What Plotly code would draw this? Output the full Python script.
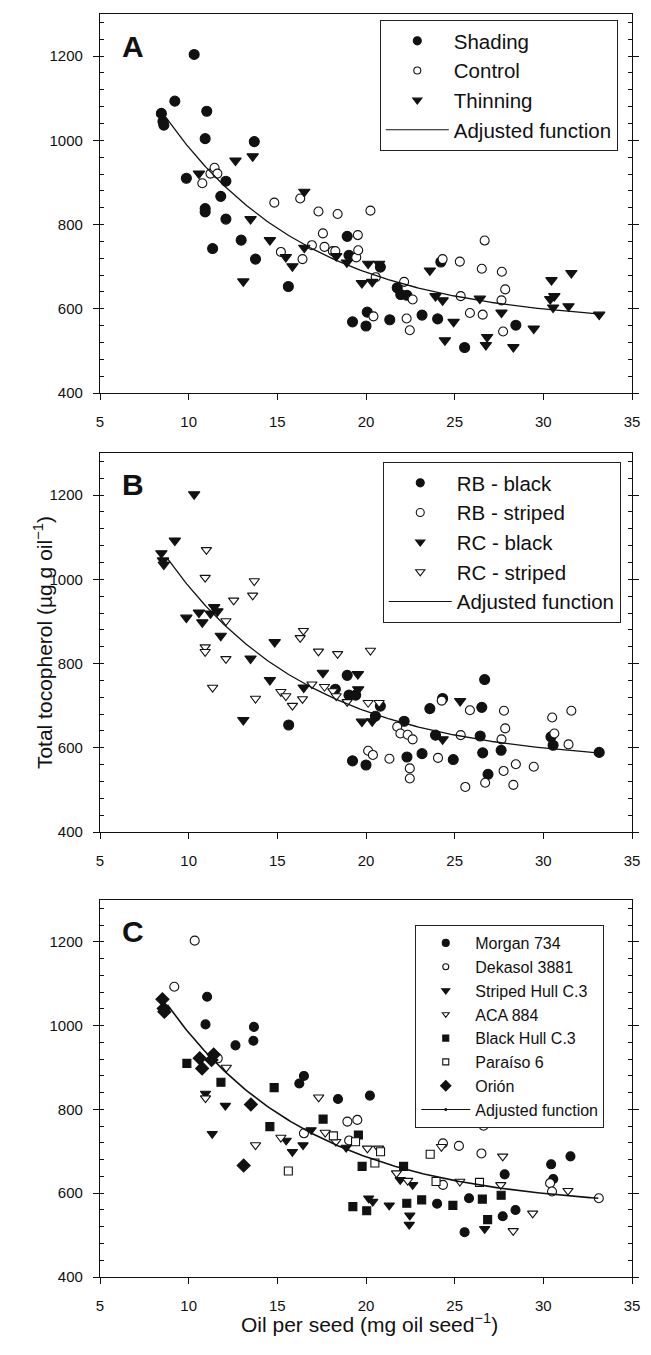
import numpy as np
import plotly.graph_objects as go

# ---------------- Panel A: source treatments ----------------
shading_x = [8.46, 8.55, 8.6, 9.22, 10.31, 11.02, 10.93, 9.87, 10.93, 10.93, 11.35, 12.1, 11.81, 12.1,
             12.96, 13.7, 13.77, 15.62, 18.94, 19.04, 20.81, 19.24, 20.07, 20.0, 21.34, 21.76, 21.96,
             22.31, 23.16, 24.04, 24.22, 25.56, 28.45]
shading_y = [1064, 1045, 1036, 1093, 1204, 1069, 1004, 910, 838, 830, 743, 903, 867, 813,
             763, 997, 718, 653, 772, 727, 699, 569, 592, 559, 574, 650, 634,
             632, 585, 576, 711, 508, 561]

control_x = [10.77, 11.23, 11.46, 11.62, 14.83, 16.29, 16.42, 15.2, 16.95, 17.32, 17.57, 17.66, 18.13,
             18.27, 18.4, 19.45, 19.54, 19.56, 20.25, 20.42, 20.55, 22.15, 22.29, 22.47, 22.63, 24.32,
             25.29, 25.34, 25.86, 26.53, 26.58, 26.69, 27.66, 27.64, 27.73, 27.85]
control_y = [898, 921, 935, 921, 852, 862, 718, 735, 751, 831, 779, 747, 737,
             737, 825, 722, 775, 739, 833, 582, 675, 664, 577, 549, 622, 718,
             712, 630, 590, 695, 586, 762, 688, 620, 546, 646]

thinning_x = [10.58, 12.64, 13.61, 13.49, 13.08, 14.58, 15.48, 15.85, 16.52, 16.52, 18.32, 18.92, 20.12,
              19.77, 20.35, 20.74, 23.6, 23.92, 24.32, 24.45, 24.94, 26.42, 26.83, 26.76, 27.64, 28.31,
              29.46, 30.46, 30.39, 30.62, 30.55, 31.42, 31.58, 33.15]
thinning_y = [921, 952, 962, 813, 665, 763, 723, 701, 878, 745, 725, 710, 707,
              661, 664, 707, 691, 630, 620, 525, 569, 624, 533, 514, 591, 509,
              553, 668, 623, 630, 603, 606, 685, 586]

# ---------------- Panel B: location x hull colour ----------------
rb_black_x = [15.64, 18.94, 18.27, 19.04, 19.42, 20.81, 20.53, 19.24, 20.0, 22.15, 22.31, 23.16, 23.6,
              23.92, 24.32, 24.92, 26.44, 26.53, 26.69, 26.58, 26.88, 27.62, 30.43, 30.55, 33.15]
rb_black_y = [654, 772, 739, 725, 725, 699, 675, 569, 559, 663, 578, 586, 693,
              630, 717, 572, 628, 696, 762, 588, 537, 594, 626, 606, 589]

rb_striped_x = [20.12, 20.39, 21.32, 21.76, 21.94, 22.35, 22.63, 22.47, 22.47, 24.06, 24.27, 25.34,
                25.6, 25.86, 26.72, 27.64, 27.78, 27.85, 27.76, 28.45, 28.31, 29.46, 30.5, 30.62,
                31.42, 31.58]
rb_striped_y = [593, 583, 574, 650, 634, 631, 620, 551, 527, 576, 712, 630,
                507, 689, 517, 620, 688, 646, 545, 561, 512, 555, 672, 634,
                608, 688]

rc_black_x = [8.46, 8.55, 8.6, 9.22, 10.31, 9.87, 10.58, 10.77, 11.44, 11.23, 11.62, 11.81, 13.49,
              13.08, 14.58, 14.85, 16.49, 17.57, 19.54, 19.56, 19.77, 20.35, 24.32, 25.31]
rc_black_y = [1062, 1045, 1035, 1092, 1202, 909, 921, 898, 934, 919, 924, 866, 812,
              666, 761, 851, 743, 778, 775, 739, 662, 663, 620, 711]

rc_striped_x = [11.0, 10.93, 10.93, 10.93, 11.35, 12.1, 12.1, 12.54, 13.7, 13.61, 13.77, 15.2, 15.48,
                15.85, 16.29, 16.47, 16.42, 16.95, 17.32, 17.66, 18.13, 18.32, 18.4, 18.94, 20.12,
                20.25, 20.74]
rc_striped_y = [1070, 1004, 839, 828, 743, 901, 811, 950, 996, 962, 717, 733, 723,
                700, 861, 878, 716, 751, 829, 745, 735, 723, 823, 709, 707,
                831, 707]

# ---------------- Panel C: hybrids ----------------
morgan_x = [11.04, 10.95, 12.64, 13.65, 13.68, 16.24, 16.5, 18.42, 20.22, 24.01, 25.56, 25.81, 27.82,
            27.71, 28.43, 30.44, 30.56, 31.53]
morgan_y = [1069, 1003, 953, 964, 997, 862, 880, 825, 833, 575, 507, 588, 645,
            545, 560, 669, 634, 688]

dekasol_x = [9.19, 10.34, 11.64, 16.5, 18.95, 19.51, 19.05, 24.34, 25.24, 26.51, 26.63, 24.34, 30.38,
             30.49, 33.13]
dekasol_y = [1093, 1203, 922, 743, 771, 775, 726, 719, 713, 695, 761, 620, 624,
             604, 588]

striped_c3_x = [10.95, 12.07, 11.33, 15.5, 15.85, 16.45, 16.91, 18.88, 20.15, 20.38, 21.31, 21.93,
                22.63, 22.47, 22.44, 26.69]
striped_c3_y = [838, 809, 742, 726, 699, 715, 751, 709, 588, 580, 571, 632,
                620, 547, 525, 515]

aca884_x = [10.95, 12.12, 13.77, 15.2, 17.33, 17.7, 18.3, 20.08, 20.71, 21.72, 22.35, 24.25, 25.29,
            27.71, 27.6, 28.3, 29.4, 31.39]
aca884_y = [827, 900, 715, 733, 829, 745, 723, 707, 707, 648, 630, 711, 628,
            688, 620, 510, 552, 606]

black_c3_x = [9.9, 11.82, 14.82, 14.58, 17.58, 19.57, 19.78, 22.12, 19.26, 20.04, 22.3, 23.14, 24.9,
              26.56, 26.86, 27.62]
black_c3_y = [910, 865, 852, 759, 777, 739, 664, 664, 568, 558, 576, 584, 571,
              586, 537, 595]

paraiso_x = [15.62, 18.16, 19.41, 20.5, 20.82, 23.62, 23.95, 26.4]
paraiso_y = [653, 737, 723, 672, 699, 693, 628, 626]

orion_x = [8.52, 8.59, 8.63, 10.62, 10.76, 11.41, 11.29, 13.51, 13.1]
orion_y = [1063, 1041, 1033, 922, 898, 931, 918, 812, 666]

# Adjusted function: y = a + b * exp(-c * x)
fit_a, fit_b, fit_c = 563.0, 1427.0, 0.1222
fit_xmin, fit_xmax = 8.8, 33.1

FONT = "Liberation Sans, Arial, Helvetica, sans-serif"
INK = "#111111"

fig = go.Figure()

curve_x = np.linspace(fit_xmin, fit_xmax, 200)
curve_y = fit_a + fit_b * np.exp(-fit_c * curve_x)


def add_group(x, y, symbol, filled, size, axis, legend, name, leg_size):
    xa = "x" if axis == 1 else f"x{axis}"
    ya = "y" if axis == 1 else f"y{axis}"
    marker = dict(symbol=symbol, size=size,
                  color=INK if filled else "white",
                  line=dict(color=INK, width=1.1))
    fig.add_trace(go.Scatter(x=x, y=y, mode="markers", marker=marker,
                             xaxis=xa, yaxis=ya, showlegend=False, hoverinfo="x+y"))
    leg_marker = dict(marker)
    leg_marker["size"] = leg_size
    fig.add_trace(go.Scatter(x=[None], y=[None], mode="markers", marker=leg_marker,
                             name=name, legend=legend, xaxis=xa, yaxis=ya))


def add_curve(axis, legend, width, with_dot=False):
    xa = "x" if axis == 1 else f"x{axis}"
    ya = "y" if axis == 1 else f"y{axis}"
    fig.add_trace(go.Scatter(x=curve_x, y=curve_y, mode="lines",
                             line=dict(color=INK, width=width),
                             xaxis=xa, yaxis=ya, showlegend=False, hoverinfo="skip"))
    fig.add_trace(go.Scatter(x=[None], y=[None],
                             mode="lines+markers" if with_dot else "lines",
                             line=dict(color=INK, width=1.1),
                             marker=dict(size=3, color=INK),
                             name="Adjusted function", legend=legend, xaxis=xa, yaxis=ya))


# Panel A
add_group(shading_x, shading_y, "circle", True, 10, 1, "legend", "Shading", 8)
add_group(control_x, control_y, "circle", False, 9, 1, "legend", "Control", 7)
add_group(thinning_x, thinning_y, "triangle-down", True, 10, 1, "legend", "Thinning", 8)
add_curve(1, "legend", 1.3)

# Panel B
add_group(rb_black_x, rb_black_y, "circle", True, 10, 2, "legend2", "RB - black", 8)
add_group(rb_striped_x, rb_striped_y, "circle", False, 9, 2, "legend2", "RB - striped", 8)
add_group(rc_black_x, rc_black_y, "triangle-down", True, 10, 2, "legend2", "RC - black", 8)
add_group(rc_striped_x, rc_striped_y, "triangle-down", False, 9, 2, "legend2", "RC - striped", 8)
add_curve(2, "legend2", 1.3)

# Panel C
add_group(morgan_x, morgan_y, "circle", True, 9, 3, "legend3", "Morgan 734", 7)
add_group(dekasol_x, dekasol_y, "circle", False, 9, 3, "legend3", "Dekasol 3881", 6)
add_group(striped_c3_x, striped_c3_y, "triangle-down", True, 9, 3, "legend3", "Striped Hull C.3", 7)
add_group(aca884_x, aca884_y, "triangle-down", False, 9, 3, "legend3", "ACA 884", 6)
add_group(black_c3_x, black_c3_y, "square", True, 8, 3, "legend3", "Black Hull C.3", 6)
add_group(paraiso_x, paraiso_y, "square", False, 8, 3, "legend3", "Paraíso 6", 6)
add_group(orion_x, orion_y, "diamond", True, 10, 3, "legend3", "Orión", 8)
add_curve(3, "legend3", 1.6, with_dot=True)

W, H = 651, 1355
M_L, M_R, M_T, M_B = 100, 11, 14, 78
plot_h = H - M_T - M_B


def frac(py):
    return (H - M_B - py) / plot_h


domains = [(frac(393), frac(14)), (frac(832), frac(453)), (frac(1277), frac(900))]

axis_common = dict(showline=True, linecolor=INK, linewidth=1.2, mirror=True,
                   showgrid=False, zeroline=False, ticks="outside", tickcolor=INK,
                   ticklen=6, tickwidth=1, tickfont=dict(family=FONT, size=15, color=INK))

layout = dict(width=W, height=H, margin=dict(l=M_L, r=M_R, t=M_T, b=M_B),
              paper_bgcolor="white", plot_bgcolor="white",
              font=dict(family=FONT, color=INK))

for i, dom in enumerate(domains, start=1):
    xk = "xaxis" if i == 1 else f"xaxis{i}"
    yk = "yaxis" if i == 1 else f"yaxis{i}"
    ya = "y" if i == 1 else f"y{i}"
    xa = "x" if i == 1 else f"x{i}"
    layout[xk] = dict(axis_common, range=[5, 35], tick0=5, dtick=5, anchor=ya, domain=[0, 1],
                      ticklabelstandoff=9)
    layout[yk] = dict(axis_common, range=[400, 1300], tick0=400, dtick=200, anchor=xa,
                      domain=list(dom), mirror="allticks", ticklabelstandoff=7,
                      minor=dict(dtick=40, tick0=400, ticks="inside", ticklen=4,
                                 tickcolor=INK, tickwidth=1))

legend_common = dict(bgcolor="white", bordercolor="#222222", borderwidth=1,
                     xanchor="left", yanchor="top", tracegroupgap=0,
                     itemclick=False, itemdoubleclick=False)
layout["legend"] = dict(legend_common, x=(384 - M_L) / 540, y=frac(20), itemwidth=63,
                        font=dict(family=FONT, size=20.5, color=INK))
layout["legend2"] = dict(legend_common, x=(387 - M_L) / 540, y=frac(462), itemwidth=63,
                         font=dict(family=FONT, size=20.5, color=INK))
layout["legend3"] = dict(legend_common, x=(420 - M_L) / 540, y=frac(925), itemwidth=49,
                         font=dict(family=FONT, size=16, color=INK))

annotations = []
for i, letter in enumerate(["A", "B", "C"], start=1):
    annotations.append(dict(text=f"<b>{letter}</b>", x=6.85, y=1224,
                            xref="x" if i == 1 else f"x{i}", yref="y" if i == 1 else f"y{i}",
                            showarrow=False, font=dict(family=FONT, size=30, color=INK)))

annotations.append(dict(text="Total tocopherol (µg g oil<sup>−1</sup>)", textangle=-90,
                        x=(27 - M_L) / 540, y=frac(643), xref="paper", yref="paper",
                        showarrow=False, font=dict(family=FONT, size=21, color=INK)))
annotations.append(dict(text="Oil per seed (mg oil seed<sup>−1</sup>)",
                        x=(374 - M_L) / 540, y=frac(1338), xref="paper", yref="paper",
                        showarrow=False, font=dict(family=FONT, size=21, color=INK)))
layout["annotations"] = annotations

fig.update_layout(layout)
fig.write_html("out.html")
